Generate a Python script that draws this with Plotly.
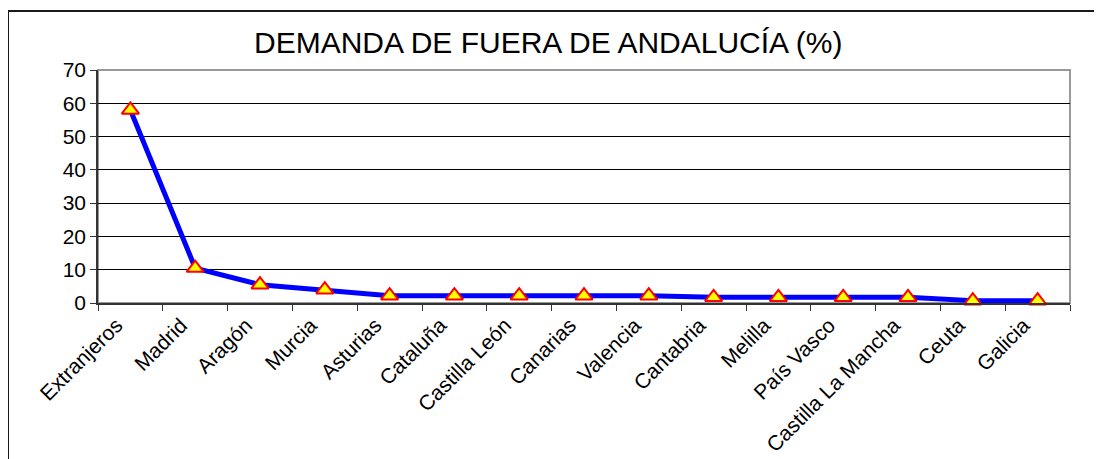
import plotly.graph_objects as go

# Data
regions = [
    "Extranjeros", "Madrid", "Aragón", "Murcia", "Asturias", "Cataluña",
    "Castilla León", "Canarias", "Valencia", "Cantabria", "Melilla",
    "País Vasco", "Castilla La Mancha", "Ceuta", "Galicia",
]
demand_pct = [58, 10.5, 5.5, 4, 2.2, 2.2, 2.2, 2.2, 2.2, 1.7, 1.7, 1.7, 1.7, 0.7, 0.7]
y_ticks = [0, 10, 20, 30, 40, 50, 60, 70]

FONT = "Liberation Sans, Arial, sans-serif"

fig = go.Figure()
fig.add_trace(
    go.Scatter(
        x=regions,
        y=demand_pct,
        mode="lines+markers",
        line={"color": "#0000ff", "width": 5},
        marker={
            "symbol": "triangle-up",
            "size": 15,
            "color": "#ffff00",
            "line": {"color": "#ff0000", "width": 2},
        },
        cliponaxis=False,
        showlegend=False,
    )
)

# the page body adds 8px on the left/top, so the figure is 8px smaller
fig.update_layout(
    width=1094,
    height=451,
    margin={"l": 90, "r": 32, "t": 62, "b": 156, "autoexpand": False},
    paper_bgcolor="#ffffff",
    plot_bgcolor="#ffffff",
    font={"family": FONT, "color": "#000000"},
    annotations=[
        {
            "text": "DEMANDA DE FUERA DE ANDALUCÍA (%)",
            "xref": "paper",
            "yref": "paper",
            "x": 0.463,
            "y": 1.116,
            "yanchor": "middle",
            "showarrow": False,
            "font": {"size": 30, "family": FONT},
        }
    ],
    shapes=[
        # outer chart border (right side runs past the picture)
        {
            "type": "rect",
            "xref": "paper",
            "yref": "paper",
            "x0": -0.0926,
            "x1": 1.1,
            "y0": -0.75,
            "y1": 1.253,
            "line": {"color": "#1a1a1a", "width": 2},
        },
        # plot area frame
        {
            "type": "rect",
            "xref": "paper",
            "yref": "paper",
            "x0": 0,
            "x1": 1,
            "y0": 0,
            "y1": 1,
            "line": {"color": "#999999", "width": 2},
            "layer": "below",
        },
    ],
)

fig.update_xaxes(
    type="category",
    range=[-0.5, len(regions) - 0.5],
    automargin=False,
    tickangle=-45,
    tickson="boundaries",
    ticks="outside",
    ticklen=6,
    tickcolor="#333333",
    ticklabelshift=-14,
    showline=True,
    linecolor="#333333",
    linewidth=1.5,
    showgrid=False,
    tickfont={"size": 21, "family": FONT},
)
fig.update_yaxes(
    automargin=False,
    range=[0, 70],
    tickvals=y_ticks,
    ticks="outside",
    ticklen=6,
    tickcolor="#333333",
    showline=True,
    linecolor="#333333",
    linewidth=1.5,
    gridcolor="#000000",
    gridwidth=1,
    zeroline=False,
    tickfont={"size": 21, "family": FONT},
)

fig.write_html("out.html")
